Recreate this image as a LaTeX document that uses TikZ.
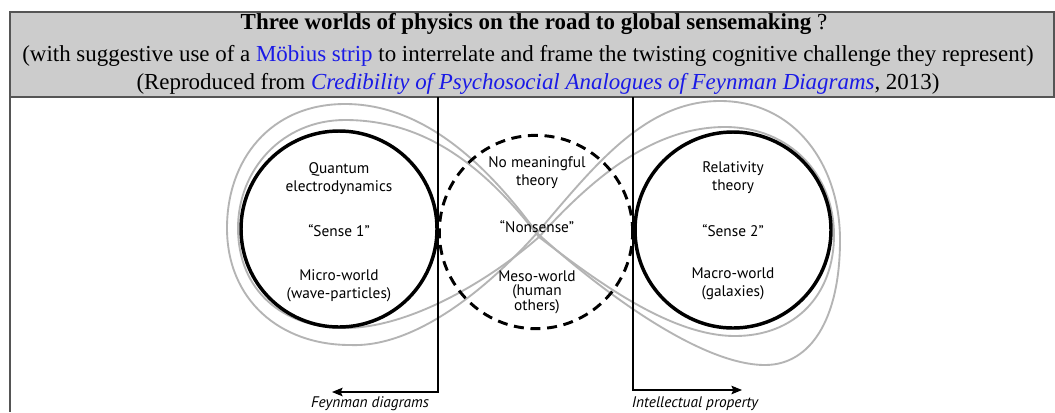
\documentclass[tikz,border=0pt]{standalone}
\usepackage{fontspec}
\usepackage{xcolor}
\usepackage{tikz}
\usetikzlibrary{arrows.meta,positioning}
\setmainfont{Liberation Serif}
\newfontfamily\diagfont{PT Sans}
\definecolor{HeadGray}{HTML}{CCCCCC}
\definecolor{FrameGray}{HTML}{555555}
\definecolor{StripGray}{HTML}{B4B4B4}
\definecolor{LinkBlue}{HTML}{1A1AE6}

\begin{document}
\begin{tikzpicture}[
  x=0.75pt,y=-0.75pt,
  headbox/.style={draw=FrameGray,line width=1.1pt,fill=HeadGray},
  headline/.style={font=\fontsize{17.2}{20}\selectfont,inner sep=0pt,anchor=center},
  world/.style={circle,draw=black,line width=2.6pt,minimum size=147pt,inner sep=0pt},
  nonworld/.style={circle,draw=black,line width=2.2pt,dash pattern=on 7.5pt off 5pt,minimum size=145pt,inner sep=0pt},
  strip/.style={draw=StripGray,line width=1.4pt},
  word/.style={font=\diagfont\fontsize{11.5}{13.5}\selectfont,align=center,inner sep=0pt},
  tag/.style={font=\diagfont\itshape\fontsize{11.5}{13.5}\selectfont,inner sep=0pt},
  arrow/.style={-{Stealth[length=8pt,width=6.5pt,inset=1.5pt]},line width=0.8pt,draw=black}
]
\useasboundingbox (0,0) rectangle (1055,412);
\fill[white] (0,0) rectangle (1055,412);
\draw[headbox] (10,12) rectangle (1054,97);
\draw[draw=FrameGray,line width=1.1pt] (10,97) -- (10,412);
\node[headline] (title) at (534,24) {{\bfseries Three worlds of physics on the road to global sensemaking} ?};
\node[headline] (subtitle) at (528,56) {(with suggestive use of a \textcolor{LinkBlue}{Möbius strip} to interrelate and frame the twisting cognitive challenge they represent)};
\node[headline] (source) at (538,84) {(Reproduced from \textcolor{LinkBlue}{\itshape Credibility of Psychosocial Analogues of Feynman Diagrams}, 2013)};

% the two edges of the twisted band
\coordinate (cross) at (537,233);
\coordinate (crossb) at (539,237);
\draw[strip] (cross) .. controls (478,152) and (415,104) .. (345,104)
  .. controls (270,104) and (227,160) .. (227,228)
  .. controls (227,300) and (280,345) .. (350,345)
  .. controls (420,348) and (495,280) .. (cross)
  .. controls (595,165) and (645,101) .. (720,101)
  .. controls (795,101) and (840,165) .. (840,240)
  .. controls (840,320) and (810,365) .. (765,365)
  .. controls (700,365) and (600,290) .. (cross);
\draw[strip] (crossb) .. controls (480,160) and (420,120) .. (345,120)
  .. controls (282,120) and (238,170) .. (238,228)
  .. controls (238,290) and (282,328) .. (345,328)
  .. controls (410,328) and (490,280) .. (crossb)
  .. controls (595,175) and (655,127) .. (725,127)
  .. controls (790,127) and (834,175) .. (834,235)
  .. controls (834,295) and (795,336) .. (735,336)
  .. controls (670,336) and (595,280) .. (crossb);

\node[world] (qed) at (339,229) {};
\node[world] (rel) at (733,230) {};
\node[nonworld] (nons) at (536,232) {};

\coordinate (ftop) at (438,97);
\coordinate (fend) at (332,392);
\coordinate (itop) at (633,97);
\coordinate (iend) at (742,390);
\draw[arrow] (ftop) |- (fend);
\draw[arrow] (itop) |- (iend);

\node[word] (qedname) at (339,179) {Quantum\\electrodynamics};
\node[word] (qedsense) at (339,231) {“Sense 1”};
\node[word] (qedscale) at (339,286) {Micro-world\\(wave-particles)};
\node[word] (relname) at (733,178) {Relativity\\theory};
\node[word] (relsense) at (733,231) {“Sense 2”};
\node[word] (relscale) at (733,284) {Macro-world\\(galaxies)};
\node[word] (nonsname) at (537,173) {No meaningful\\theory};
\node[word] (nonssense) at (537,227) {“Nonsense”};
\node[word,font=\diagfont\fontsize{11.5}{10.8}\selectfont] (nonsscale) at (537,292) {Meso-world\\(human\\others)};

\node[tag] (feyn) at (370,404) {Feynman diagrams};
\node[tag] (ip) at (695,404) {Intellectual property};
\end{tikzpicture}
\end{document}
